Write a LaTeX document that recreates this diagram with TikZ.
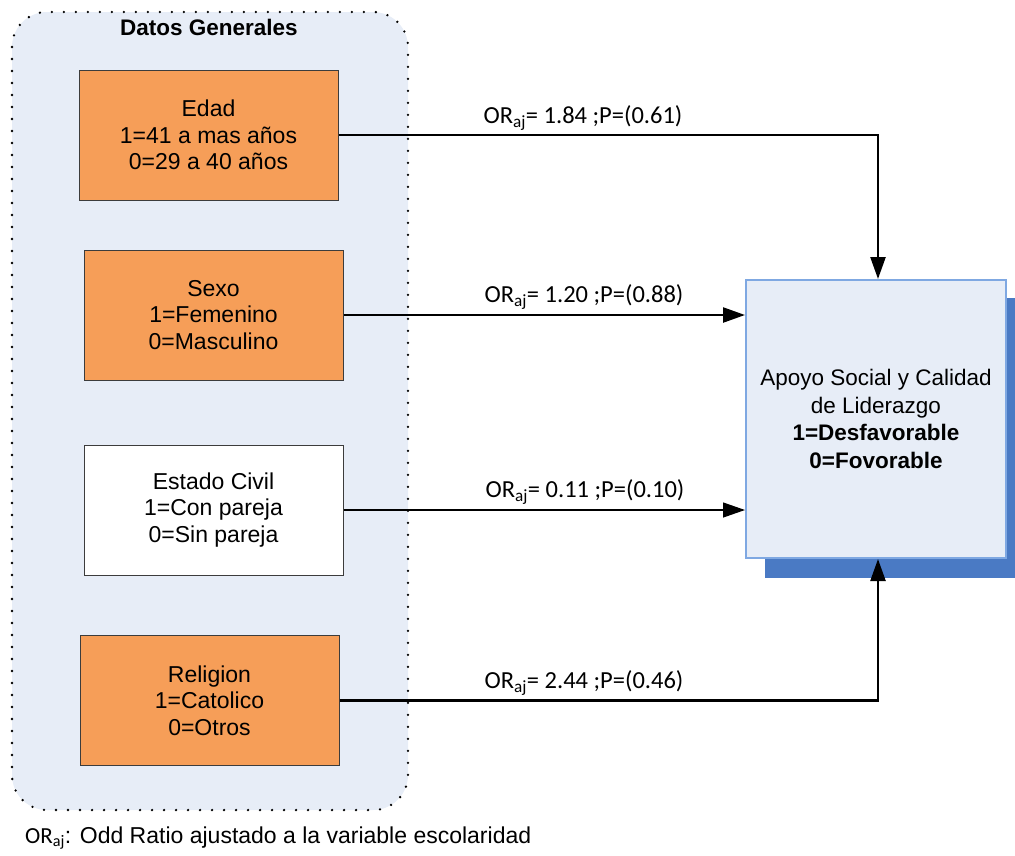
\documentclass[tikz,border=0pt]{standalone}
\usepackage{fontspec}
\setmainfont{Liberation Sans}
\newfontfamily\calib{Carlito}
\usetikzlibrary{arrows.meta,calc}
\definecolor{contfill}{HTML}{E7EDF7}
\definecolor{orangefill}{HTML}{F69E58}
\definecolor{rbord}{HTML}{7FA8E2}
\definecolor{rshadow}{HTML}{4A7AC4}
\definecolor{boxbord}{HTML}{3C3C3C}
\tikzset{
  varbox/.style={draw=boxbord, line width=1pt, fill=orangefill, minimum width=259pt, minimum height=130pt, inner sep=0pt, align=center, font=\fontsize{23}{26.5}\selectfont},
  whitebox/.style={varbox, fill=white},
  lab/.style={font=\calib\fontsize{24.5}{28}\selectfont, inner sep=0pt},
  thickarrow/.style={line width=2.4pt, -{Triangle[length=22pt,width=15pt]}},
  thinarrow/.style={line width=1.2pt, -{Triangle[length=22pt,width=15pt]}},
}
\begin{document}
\begin{tikzpicture}[x=1pt,y=-1pt]
\useasboundingbox (0,0) rectangle (1015,855);
% container
\draw[fill=contfill, rounded corners=35pt, line width=2.6pt, line cap=round, dash pattern=on 0pt off 12pt] (12,12) rectangle (408,810);
\node[font=\bfseries\fontsize{22.5}{26}\selectfont] (title) at (209,27) {Datos Generales};
% variable boxes
\node[varbox] (edad) at (208.5,135) {Edad\\1=41 a mas años\\0=29 a 40 años};
\node[varbox] (sexo) at (213.5,315) {Sexo\\1=Femenino\\0=Masculino};
\node[whitebox] (civil) at (213.5,510) {Estado Civil\\1=Con pareja\\0=Sin pareja};
\node[varbox] (relig) at (209.5,700.5) {Religion\\1=Catolico\\0=Otros};
% outcome box with shadow
\fill[rshadow] (765,298) rectangle (1015,578);
\node[draw=rbord, line width=2pt, fill=contfill, minimum width=260pt, minimum height=278pt, inner sep=0pt, align=center, font=\fontsize{22.5}{27.5}\selectfont] (out) at (876,419) {Apoyo Social y Calidad\\de Liderazgo\\\textbf{1=Desfavorable}\\\textbf{0=Fovorable}};
% connectors
\draw[thickarrow] (edad.east) -| ($(out.north)+(2,0)$);
\draw[thickarrow] (sexo.east) -- (sexo.east -| out.west);
\draw[thinarrow] (civil.east) -- (civil.east -| out.west);
\draw[thickarrow] (relig.east) -| ($(out.south)+(2,0)$);
% labels
\node[lab] (l1) at (583,118) {OR\textsubscript{aj}= 1.84 ;P=(0.61)};
\node[lab] (l2) at (584,297) {OR\textsubscript{aj}= 1.20 ;P=(0.88)};
\node[lab] (l3) at (585,492) {OR\textsubscript{aj}= 0.11 ;P=(0.10)};
\node[lab] (l4) at (584,683) {OR\textsubscript{aj}= 2.44 ;P=(0.46)};
% footnote
\node[anchor=west, inner sep=0pt, font=\fontsize{23}{26}\selectfont] (foot) at (25,838) {{\calib OR\textsubscript{aj}}: Odd Ratio ajustado a la variable escolaridad};
\end{tikzpicture}
\end{document}
